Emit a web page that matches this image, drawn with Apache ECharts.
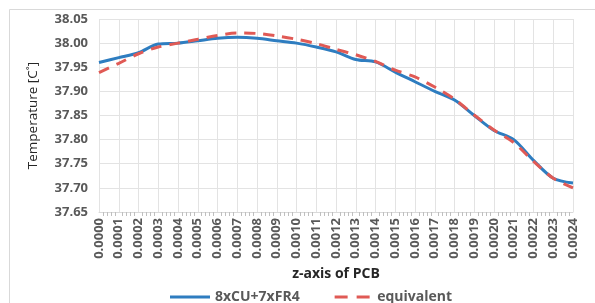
<!DOCTYPE html>
<html><head><meta charset="utf-8">
<script src="https://cdn.jsdelivr.net/npm/echarts@6/dist/echarts.min.js"></script>
<style>html,body{margin:0;padding:0;background:#fff}#c{width:595px;height:303px}</style>
</head><body><div id="c"></div>
<script>
var zValues = [0.0000,0.0001,0.0002,0.0003,0.0004,0.0005,0.0006,0.0007,0.0008,0.0009,0.0010,0.0011,0.0012,0.0013,0.0014,0.0015,0.0016,0.0017,0.0018,0.0019,0.0020,0.0021,0.0022,0.0023,0.0024];
var cuFr4 = [37.960,37.970,37.980,37.998,38.000,38.005,38.010,38.012,38.010,38.005,38.000,37.992,37.982,37.966,37.961,37.940,37.920,37.900,37.882,37.850,37.819,37.800,37.757,37.720,37.710];
var equivalent = [37.939,37.958,37.978,37.992,38.000,38.008,38.016,38.021,38.020,38.015,38.008,37.999,37.987,37.976,37.962,37.944,37.930,37.909,37.884,37.851,37.820,37.794,37.755,37.720,37.700];
var yTicks = {min:37.65, max:38.05, interval:0.05};
var seriesNames = ['8xCU+7xFR4','equivalent'];

function pairs(vals){ return zValues.map(function(z,i){ return [z, vals[i]]; }); }
var font = '"Open Sans", "Noto Sans", sans-serif';
var chart = echarts.init(document.getElementById('c'));
chart.setOption({
  animation:false,
  backgroundColor:'#fff',
  graphic:[{type:'rect', shape:{x:9.5,y:9.5,width:600,height:310}, style:{fill:'none', stroke:'#d9d9d9', lineWidth:1}, silent:true}],
  grid:{left:99, right:22, top:19, bottom:91},
  xAxis:{
    type:'value', min:0, max:0.0024, interval:0.0001,
    name:'z-axis of PCB', nameLocation:'middle', nameGap:50,
    nameTextStyle:{fontFamily:font, fontWeight:'bold', fontSize:14, color:'#262626'},
    axisLine:{show:true, lineStyle:{color:'#d9d9d9', width:1}},
    axisTick:{show:false},
    minorTick:{show:true, splitNumber:5, length:4, lineStyle:{color:'#bfbfbf'}},
    splitLine:{show:true, lineStyle:{color:'#e3e3e3', width:1}},
    axisLabel:{rotate:90, fontFamily:font, fontSize:13, fontWeight:'bold', color:'#595959', margin:6,
      formatter:function(v){ return v.toFixed(4); }}
  },
  yAxis:{
    type:'value', min:yTicks.min, max:yTicks.max, interval:yTicks.interval,
    name:'Temperature [C˚]', nameLocation:'middle', nameGap:59,
    nameTextStyle:{fontFamily:font, fontSize:13.5, color:'#262626'},
    axisLine:{show:false}, axisTick:{show:false},
    splitLine:{show:true, lineStyle:{color:'#e3e3e3', width:1}},
    axisLabel:{fontFamily:font, fontSize:13, fontWeight:'bold', color:'#595959', margin:11,
      formatter:function(v){ return v.toFixed(2); }}
  },
  legend:{
    top:285, left:165, itemGap:35, itemHeight:3,
    textStyle:{fontFamily:font, fontSize:14, fontWeight:'bold', color:'#595959'},
    data:[
      {name:seriesNames[0], icon:'path://M0,0H43V3H0Z', itemStyle:{color:'#2E7DC0'}},
      {name:seriesNames[1], icon:'path://M0,0H13V3H0Z M22,0H35V3H22Z', itemStyle:{color:'#E05A55'}}
    ],
    itemWidth:40
  },
  series:[
    {name:seriesNames[0], type:'line', data:pairs(cuFr4), smooth:0.3, symbol:'none',
     lineStyle:{color:'#2E7DC0', width:3}, itemStyle:{color:'#2E7DC0'}, z:2},
    {name:seriesNames[1], type:'line', data:pairs(equivalent), smooth:0.3, symbol:'none',
     lineStyle:{color:'#E05A55', width:3, type:[11,8]}, itemStyle:{color:'#E05A55'}, z:3}
  ]
});
</script></body></html>
